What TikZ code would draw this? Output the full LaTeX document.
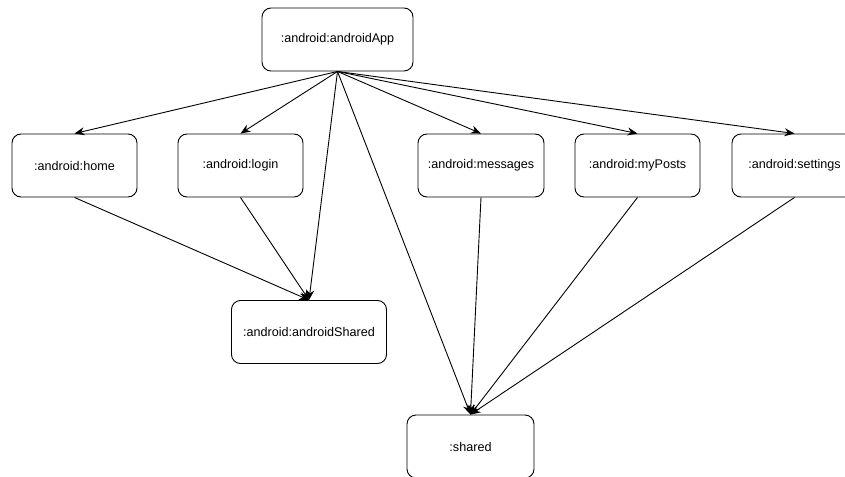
\documentclass[tikz,border=0pt]{standalone}
\usepackage{fontspec}
\setmainfont{Liberation Sans}
\usetikzlibrary{arrows.meta}
\begin{document}
\begin{tikzpicture}[x=1pt,y=-1pt,
  box/.style={draw=black,line width=0.9pt,rounded corners=9pt,fill=white,
    minimum height=63pt,inner sep=0pt,font=\fontsize{12.6}{14}\selectfont},
  dep/.style={draw=black,line width=0.9pt,-{Stealth[length=10pt,width=8pt]}}]
\useasboundingbox (0,0) rectangle (845,476);
\begin{scope}
\clip (0,0) rectangle (845,476);
\node[box,minimum width=151pt] (app) at (337.5,39.5) {:android:androidApp};
\node[box,minimum width=125pt] (home) at (74.5,165.5) {:android:home};
\node[box,minimum width=125pt] (login) at (240.5,165.5) {:android:login};
\node[box,minimum width=126pt] (msg) at (481,165.5) {:android:messages};
\node[box,minimum width=125pt] (posts) at (637.5,165.5) {:android:myPosts};
\node[box,minimum width=125pt] (set) at (794.5,165.5) {:android:settings};
\node[box,minimum width=155pt] (ashared) at (309,332) {:android:androidShared};
\node[box,minimum width=127pt] (shared) at (470.5,446.5) {:shared};
\draw[dep] (app.south) -- (home.north);
\draw[dep] (app.south) -- (login.north);
\draw[dep] (app.south) -- (msg.north);
\draw[dep] (app.south) -- (posts.north);
\draw[dep] (app.south) -- (set.north);
\draw[dep] (app.south) -- (ashared.north);
\draw[dep] (app.south) -- (shared.north);
\draw[dep] (home.south) -- (ashared.north);
\draw[dep] (login.south) -- (ashared.north);
\draw[dep] (msg.south) -- (shared.north);
\draw[dep] (posts.south) -- (shared.north);
\draw[dep] (set.south) -- (shared.north);
\end{scope}
\end{tikzpicture}
\end{document}
